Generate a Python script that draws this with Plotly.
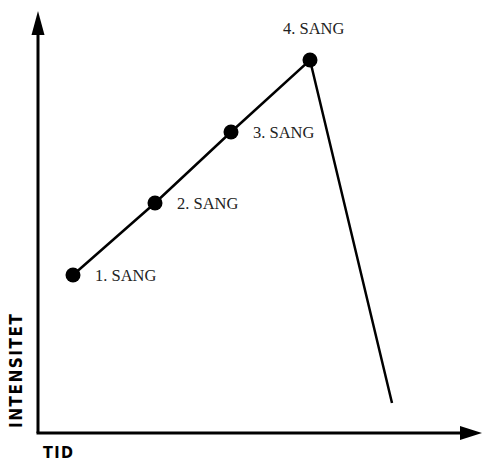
import plotly.graph_objects as go

# Song order and intensity over time
songs = ["1. SANG", "2. SANG", "3. SANG", "4. SANG"]
song_time = [35, 117, 193, 272]
song_intensity = [158, 230, 301, 373]
# after the last song the intensity falls off
end_time = [354]
end_intensity = [30]

x_title = "T\u200aI\u200aD"
y_title = "I\u200aN\u200aT\u200aE\u200aN\u200aS\u200aI\u200aT\u200aE\u200aT"

fig = go.Figure()

fig.add_trace(go.Scatter(
    x=song_time + end_time,
    y=song_intensity + end_intensity,
    mode="lines",
    line=dict(color="black", width=2.5),
    hoverinfo="skip",
))
fig.add_trace(go.Scatter(
    x=song_time,
    y=song_intensity,
    mode="markers",
    marker=dict(color="black", size=15),
    hoverinfo="skip",
))

label_font = dict(family="Liberation Serif", size=16.5, color="#222")
for i, (name, t, v) in enumerate(zip(songs, song_time, song_intensity)):
    if i < len(songs) - 1:
        fig.add_annotation(x=t, y=v, text=name, showarrow=False,
                           xanchor="left", yanchor="middle", xshift=20, yshift=0,
                           font=label_font)
    else:
        fig.add_annotation(x=t, y=v, text=name, showarrow=False,
                           xanchor="center", yanchor="bottom", xshift=4, yshift=20,
                           font=label_font)

# axis lines with arrow heads
ax_style = dict(color="black", width=3)
fig.add_shape(type="line", x0=0, y0=0, x1=0, y1=400, line=ax_style)
fig.add_shape(type="line", x0=-1.5, y0=0, x1=425, y1=0, line=ax_style)
fig.add_shape(type="path", path="M -6.5 398 L 6.5 398 L 0 422 Z",
              fillcolor="black", line=dict(width=0))
fig.add_shape(type="path", path="M 422 -7 L 422 7 L 444 0 Z",
              fillcolor="black", line=dict(width=0))

title_family = "DejaVu Sans Condensed"
fig.add_annotation(x=3, y=-19, text="<b>" + x_title + "</b>", showarrow=False,
                   xanchor="left", yanchor="middle",
                   font=dict(family=title_family, size=16, color="black"))
fig.add_annotation(x=-22, y=3, text="<b>" + y_title + "</b>", showarrow=False,
                   xanchor="center", yanchor="bottom", textangle=-90,
                   font=dict(family=title_family, size=17, color="black"))

fig.update_layout(
    width=482, height=461,
    margin=dict(l=0, r=0, t=0, b=0),
    paper_bgcolor="white", plot_bgcolor="white",
    showlegend=False,
    xaxis=dict(range=[-38, 444], visible=False, fixedrange=True),
    yaxis=dict(range=[-28, 433], visible=False, fixedrange=True),
)

fig.write_html("out.html")
